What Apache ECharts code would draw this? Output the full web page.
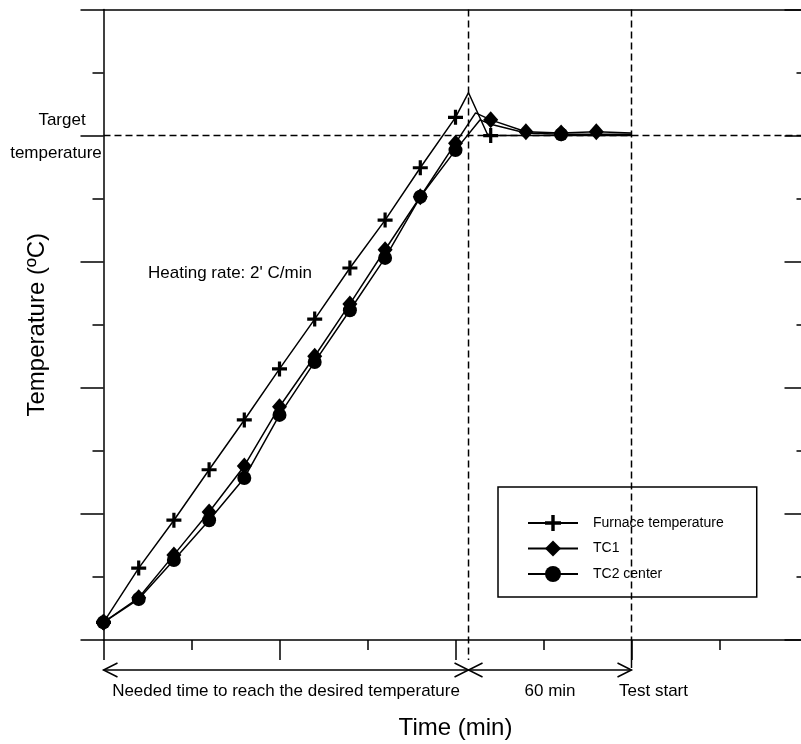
<!DOCTYPE html>
<html><head><meta charset="utf-8">
<script src="https://cdn.jsdelivr.net/npm/echarts@6/dist/echarts.min.js"></script>
<style>html,body{margin:0;padding:0;background:#fff}#c{width:801px;height:744px}</style>
</head><body><div id="c"></div>
<script>
// ---- data (time in marker steps, temperature in °C) ----
const furnaceTime = [0,1,2,3,4,5,6,7,8,9,10,10.37,10.9,11,12,13,14,15];
const furnaceTemp = [28,114,190,270,349,430,509,590,666,749,829,868,803,800,800,800,800,800];
const furnaceMark = [1,1,1,1,1,1,1,1,1,1,1,0,0,1,0,0,0,0];

const tc1Time = [0,1,2,3,4,5,6,7,8,9,10,10.57,11,12,13,14,15];
const tc1Temp = [28,67,135,203,276,370,450,533,619,703,788,836,825,806,804,806,804];
const tc1Mark = [1,1,1,1,1,1,1,1,1,1,1,0,1,1,1,1,0];

const tc2Time = [0,1,2,3,4,5,6,7,8,9,10,10.7,11,12,13,14,15];
const tc2Temp = [28,65,127,190,257,357,441,523,606,703,777,825,818,804,802,802,802];
const tc2Mark = [1,1,1,1,1,1,1,1,1,1,1,0,0,0,1,0,0];

const seriesNames = ['Furnace temperature','TC1','TC2 center'];
const targetTemp = 800;
const reachTime = 10.37;
const testStartTime = 15;
const xTickMin = 0, xTickMax = 20, xTickInterval = 5;
const yTickMin = 0, yTickMax = 1000, yTickInterval = 200;

const FONT = 'Liberation Sans, Arial, sans-serif';
const crossPath = 'path://M5.5,0H8.5V5.5H14V8.5H8.5V14H5.5V8.5H0V5.5H5.5Z';

function build(xs, ys, marks){
  return xs.map((x,i)=> marks[i] ? [x, ys[i]] : {value:[x, ys[i]], symbol:'none'});
}

const chart = echarts.init(document.getElementById('c'), null, {renderer:'canvas'});
const axisLine = {show:true, onZero:false, lineStyle:{color:'#000', width:1.5}};
chart.setOption({
  animation:false,
  backgroundColor:'#fff',
  textStyle:{fontFamily:FONT, color:'#000'},
  grid:{left:103.5, top:9.5, width:704, height:630.5, outerBoundsMode:'none', containLabel:false},
  legend:{
    orient:'vertical', left:498, top:487,
    padding:[28,33,15,29], itemGap:9.5, itemWidth:50, itemHeight:20,
    borderColor:'#000', borderWidth:1.5, backgroundColor:'#fff',
    textStyle:{fontFamily:FONT, fontSize:14, color:'#000', padding:[0,0,0,10]},
    data:seriesNames
  },
  xAxis:[{
    type:'value', position:'bottom', min:xTickMin, max:xTickMax, interval:xTickInterval,
    axisLine:axisLine,
    axisTick:{show:true, length:20, lineStyle:{color:'#000', width:1.5}},
    minorTick:{show:true, splitNumber:2, length:10, lineStyle:{color:'#000', width:1.5}},
    axisLabel:{show:false}, splitLine:{show:false},
    name:'Time (min)', nameLocation:'middle', nameGap:76,
    nameTextStyle:{fontFamily:FONT, fontSize:24, color:'#000'}
  },{
    type:'value', position:'top', min:xTickMin, max:xTickMax,
    axisLine:axisLine, axisTick:{show:false}, axisLabel:{show:false}, splitLine:{show:false}
  }],
  yAxis:[{
    type:'value', position:'left', min:yTickMin, max:yTickMax, interval:yTickInterval,
    axisLine:axisLine,
    axisTick:{show:true, length:23, lineStyle:{color:'#000', width:1.5}},
    minorTick:{show:true, splitNumber:2, length:11, lineStyle:{color:'#000', width:1.5}},
    axisLabel:{show:false}, splitLine:{show:false},
    name:'Temperature (ºC)', nameLocation:'middle', nameGap:54,
    nameTextStyle:{fontFamily:FONT, fontSize:24, color:'#000'}
  },{
    type:'value', position:'right', min:yTickMin, max:yTickMax, interval:yTickInterval,
    axisLine:axisLine,
    axisTick:{show:true, inside:true, length:23, lineStyle:{color:'#000', width:1.5}},
    minorTick:{show:true, splitNumber:2, length:11, lineStyle:{color:'#000', width:1.5}},
    axisLabel:{show:false}, splitLine:{show:false}
  }],
  series:[
    {name:seriesNames[0], type:'line', data:build(furnaceTime,furnaceTemp,furnaceMark),
     symbol:crossPath, symbolSize:15, showAllSymbol:true,
     lineStyle:{color:'#000', width:1.5}, itemStyle:{color:'#000'}, z:2},
    {name:seriesNames[1], type:'line', data:build(tc1Time,tc1Temp,tc1Mark),
     symbol:'diamond', symbolSize:[15,17], showAllSymbol:true,
     lineStyle:{color:'#000', width:1.5}, itemStyle:{color:'#000'}, z:3},
    {name:seriesNames[2], type:'line', data:build(tc2Time,tc2Temp,tc2Mark),
     symbol:'circle', symbolSize:14, showAllSymbol:true,
     lineStyle:{color:'#000', width:1.5}, itemStyle:{color:'#000'}, z:4}
  ]
});

// ---- annotations positioned via the chart's own scales ----
const P = (x,y)=>chart.convertToPixel({gridIndex:0},[x,y]);
const [x0, yB] = P(0, 0);
const yTop = P(0, yTickMax)[1];
const xR = P(reachTime, 0)[0];
const xS = P(testStartTime, 0)[0];
const yTg = P(0, targetTemp)[1];
const yArrow = yB + 30;
const W = chart.getWidth();
const dash = {stroke:'#000', lineWidth:1.5, lineDash:[7,4]};
const solid = {stroke:'#000', lineWidth:1.5};
const txt = (text,x,y,align,size)=>({type:'text', x:x, y:y, z:10,
  style:{text:text, fill:'#000', font:(size||17)+'px '+FONT, textAlign:align||'center', textVerticalAlign:'middle'}});
const head = (tipX, dir)=>({type:'polyline', z:10,
  shape:{points:[[tipX-dir*14, yArrow-7],[tipX, yArrow],[tipX-dir*14, yArrow+7]]}, style:solid});

chart.setOption({graphic:[
  {type:'line', z:5, shape:{x1:x0, y1:yTg, x2:W, y2:yTg}, style:dash},
  {type:'line', z:5, shape:{x1:xR, y1:yTop, x2:xR, y2:yB+20}, style:dash},
  {type:'line', z:5, shape:{x1:xS, y1:yTop, x2:xS, y2:yB}, style:dash},
  {type:'line', z:5, shape:{x1:xS, y1:yB, x2:xS, y2:yB+28}, style:solid},
  {type:'line', z:10, shape:{x1:x0, y1:yArrow, x2:xS, y2:yArrow}, style:solid},
  head(x0, -1), head(xR, 1), head(xR, -1), head(xS, 1),
  txt('Target', 62, yTg-15),
  txt('temperature', 56, yTg+18),
  txt("Heating rate: 2' C/min", 148, 273, 'left'),
  txt('Needed time to reach the desired temperature', (x0+xR)/2, yB+51),
  txt('60 min', (xR+xS)/2, yB+51),
  txt('Test start', xS+22, yB+51)
]});
</script>
</body></html>
